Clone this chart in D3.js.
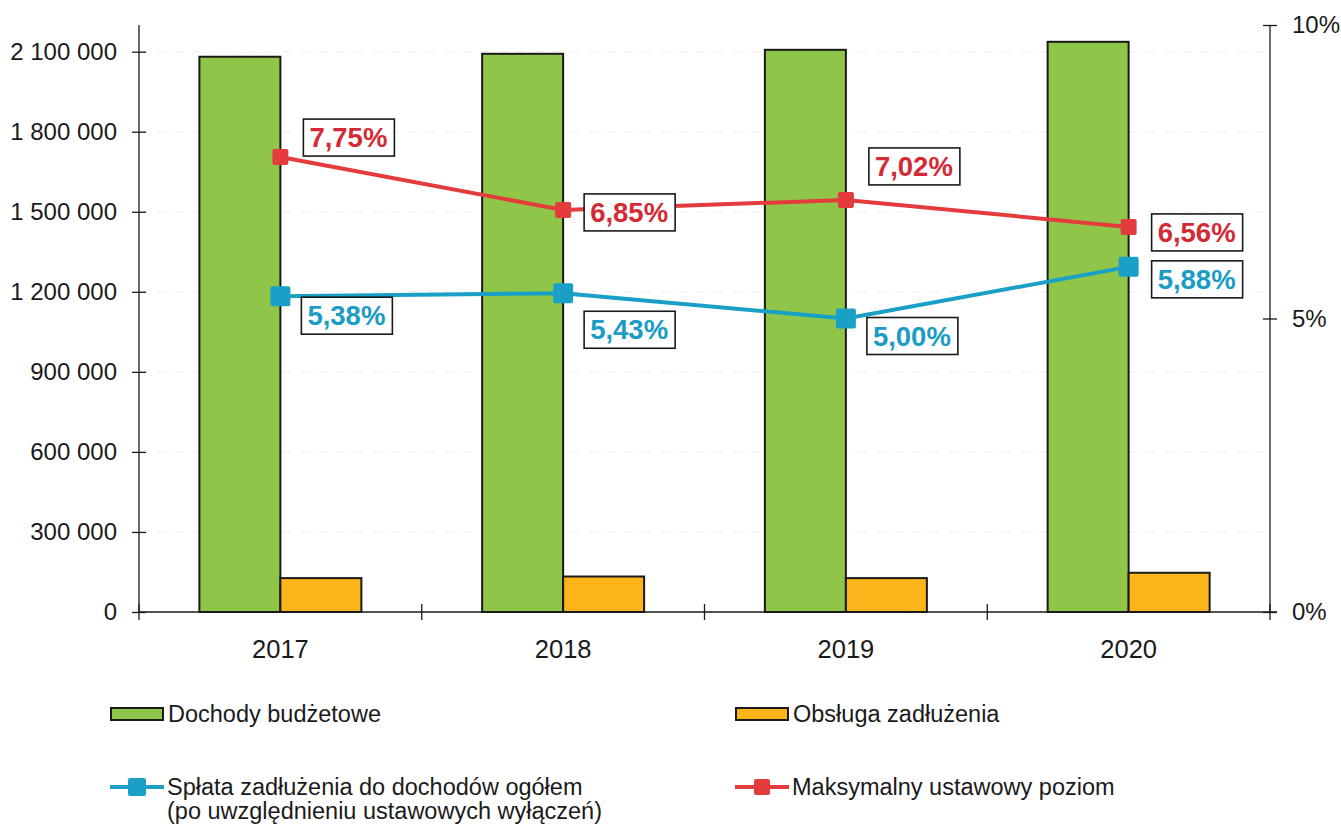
<!DOCTYPE html>
<html><head><meta charset="utf-8">
<script src="https://cdn.jsdelivr.net/npm/d3@7"></script>
<style>body{margin:0;background:#fff}svg{display:block;font-family:"Liberation Sans",Arial,sans-serif}</style>
</head><body><svg id="c" width="1341" height="827"></svg>
<script>
const years = ["2017","2018","2019","2020"];
const dochody = [2081000, 2092000, 2107000, 2137000];
const obsluga = [127000, 133000, 127000, 147000];
const splata = [5.38, 5.43, 5.00, 5.88];
const maksymalny = [7.75, 6.85, 7.02, 6.56];
const leftTicks = [0,300000,600000,900000,1200000,1500000,1800000,2100000];
const rightTicks = [0,5,10];
// label offsets relative to marker [dx, dy] (box centre)
const splataOff = [[66,19],[66,36],[66,17],[68,12]];
const maksOff = [[68,-20],[66,2],[68,-34],[68,5]];

const svg = d3.select("#c");
const L = 139, R = 1270, T = 25, B = 612;
const x = d3.scaleBand().domain(years).range([L,R]);
const yL = d3.scaleLinear().domain([0,2200000]).range([B,T]);
const yR = d3.scaleLinear().domain([0,10]).range([B,T]);
const bw = 81;
const fmt = v => d3.format(",")(v).replace(/,/g," ");
const ink = "#1a1a1a";

// gridlines
svg.append("g").selectAll("line").data(leftTicks.filter(d=>d>0)).join("line")
  .attr("x1",L).attr("x2",R).attr("y1",d=>yL(d)).attr("y2",d=>yL(d))
  .attr("stroke","#ececec").attr("stroke-width",1).attr("stroke-dasharray","8,10");

// bars
const cx = d => x(d)+x.bandwidth()/2;
svg.append("g").selectAll("rect").data(years).join("rect")
  .attr("x",d=>cx(d)-bw).attr("width",bw)
  .attr("y",(d,i)=>yL(dochody[i])).attr("height",(d,i)=>B-yL(dochody[i]))
  .attr("fill","#8fc649").attr("stroke",ink).attr("stroke-width",2);
svg.append("g").selectAll("rect").data(years).join("rect")
  .attr("x",d=>cx(d)).attr("width",bw)
  .attr("y",(d,i)=>yL(obsluga[i])).attr("height",(d,i)=>B-yL(obsluga[i]))
  .attr("fill","#fbb51b").attr("stroke",ink).attr("stroke-width",2);

// axes
const axL = svg.append("g").attr("transform",`translate(${L},0)`)
  .call(d3.axisLeft(yL).tickValues(leftTicks).tickFormat(fmt).tickSizeOuter(0).tickSizeInner(7).tickPadding(15));
axL.selectAll(".tick line").attr("x1",7).attr("x2",-7);
axL.select(".domain").attr("d",`M0,${T}V${B}`);
const axR = svg.append("g").attr("transform",`translate(${R},0)`)
  .call(d3.axisRight(yR).tickValues(rightTicks).tickFormat(d=>d+"%").tickSizeOuter(0).tickSizeInner(7).tickPadding(15));
axR.selectAll(".tick line").attr("x1",-7).attr("x2",7);
axR.select(".domain").attr("d",`M0,${T}V${B}`);
const axB = svg.append("g").attr("transform",`translate(0,${B})`)
  .call(d3.axisBottom(x).tickSize(0).tickPadding(28));
axB.select(".domain").attr("d",`M${L},0H${R+7}`);
svg.append("g").attr("class","xt").selectAll("line").data(d3.range(5)).join("line")
  .attr("x1",i=>L+i*x.step()).attr("x2",i=>L+i*x.step()).attr("y1",B-8).attr("y2",B+8);
svg.selectAll("g.tick text").attr("font-size",24).attr("fill",ink).attr("font-family","Liberation Sans, Arial, sans-serif");
axB.selectAll(".tick text").attr("font-size",25.5);
svg.selectAll(".domain, .tick line, .xt line").attr("stroke",ink).attr("stroke-width",1.3);

// lines
function series(vals, color, off, textColor, ms){
  const pts = years.map((d,i)=>[cx(d), yR(vals[i])]);
  svg.append("path").attr("d",d3.line()(pts)).attr("fill","none").attr("stroke",color).attr("stroke-width",4);
  svg.append("g").selectAll("rect").data(pts).join("rect")
    .attr("x",p=>p[0]-ms/2).attr("y",p=>p[1]-ms/2).attr("width",ms).attr("height",ms).attr("rx",2)
    .attr("fill",color);
  const g = svg.append("g").selectAll("g").data(pts).join("g")
    .attr("transform",(p,i)=>`translate(${p[0]+off[i][0]},${p[1]+off[i][1]})`);
  g.append("rect").attr("x",-45).attr("y",-18).attr("width",91).attr("height",37)
    .attr("fill","#fff").attr("stroke",ink).attr("stroke-width",1.6);
  g.append("text").attr("text-anchor","middle").attr("y",10).attr("font-size",27.5).attr("font-weight","bold")
    .attr("fill",textColor).text((p,i)=>vals[i].toFixed(2).replace(".",",")+"%");
}
series(maksymalny,"#e43b3d",maksOff,"#d42a35",16);
series(splata,"#1aa0c6",splataOff,"#1a9cc4",20);

// legend
const leg = svg.append("g").attr("font-size",23.5).attr("fill",ink);
function barKey(xp, yp, color, label){
  leg.append("rect").attr("x",xp).attr("y",yp-6).attr("width",52).attr("height",12).attr("fill",color).attr("stroke",ink).attr("stroke-width",2);
  leg.append("text").attr("x",xp+57).attr("y",yp+8).text(label);
}
function lineKey(xp, yp, color, ms, lines){
  leg.append("line").attr("x1",xp).attr("x2",xp+54).attr("y1",yp).attr("y2",yp).attr("stroke",color).attr("stroke-width",4);
  leg.append("rect").attr("x",xp+27-ms/2).attr("y",yp-ms/2).attr("width",ms).attr("height",ms).attr("rx",2).attr("fill",color);
  lines.forEach((t,i)=>leg.append("text").attr("x",xp+57).attr("y",yp+8+i*24).text(t));
}
barKey(111,714,"#8fc649","Dochody budżetowe");
barKey(736,714,"#fbb51b","Obsługa zadłużenia");
lineKey(110,787,"#1aa0c6",18,["Spłata zadłużenia do dochodów ogółem","(po uwzględnieniu ustawowych wyłączeń)"]);
lineKey(735,787,"#e43b3d",16,["Maksymalny ustawowy poziom"]);
</script></body></html>
